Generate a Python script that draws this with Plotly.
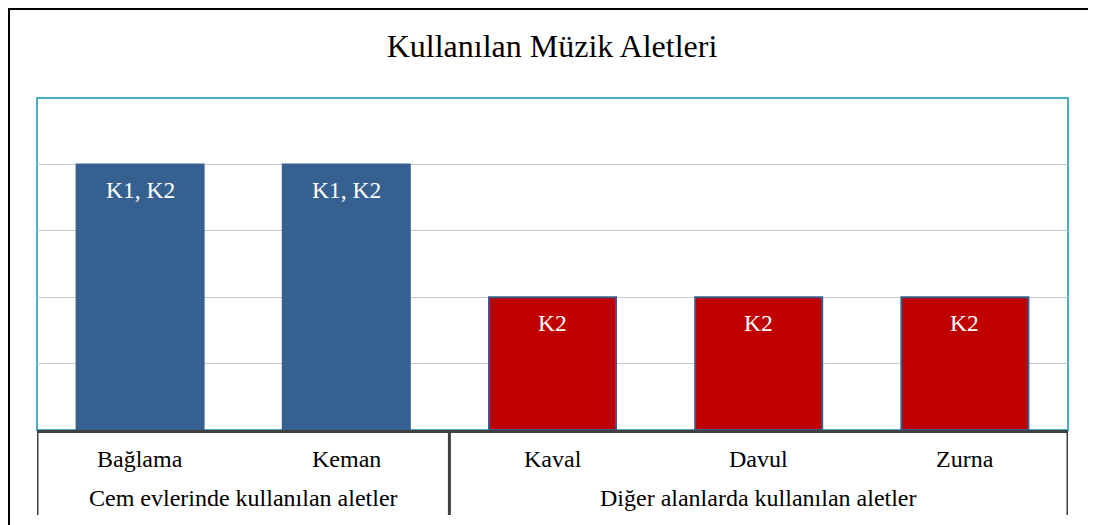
import plotly.graph_objects as go

title_text = "Kullanılan Müzik Aletleri"
groups = ["Cem evlerinde kullanılan aletler", "Cem evlerinde kullanılan aletler",
          "Diğer alanlarda kullanılan aletler", "Diğer alanlarda kullanılan aletler",
          "Diğer alanlarda kullanılan aletler"]
instruments = ["Bağlama", "Keman", "Kaval", "Davul", "Zurna"]
values = [4, 4, 2, 2, 2]
bar_labels = ["K1, K2", "K1, K2", "K2", "K2", "K2"]
bar_colors = ["#36608F", "#36608F", "#C00000", "#C00000", "#C00000"]
outline_colors = ["#36608F", "#36608F", "#385D8A", "#385D8A", "#385D8A"]

FONT = "Liberation Serif, Times New Roman, serif"
LABEL_SIZE = 24
AXIS_COLOR = "#404040"

fig = go.Figure()
fig.add_trace(go.Bar(
    x=instruments,
    y=values,
    marker=dict(color=bar_colors, line=dict(color=outline_colors, width=2)),
    hoverinfo="skip",
))

W, H = 1088, 517
L, R, T, B = 29, 28, 90, 95
pw, ph = W - L - R, H - T - B

def fx(px):
    return (px - L) / pw

def fy(py):
    return (H - B - py) / ph

shapes = [
    # cyan plot-area border
    dict(type="rect", xref="paper", yref="paper", x0=0, x1=1, y0=0, y1=1,
         line=dict(color="#4BACC6", width=2), layer="below"),
    # outer chart frame
    dict(type="line", xref="paper", yref="paper",
         x0=fx(1), x1=fx(1), y0=fy(0), y1=fy(H + 20),
         line=dict(color="black", width=2)),
    dict(type="line", xref="paper", yref="paper",
         x0=fx(0), x1=fx(W), y0=fy(1), y1=fy(1),
         line=dict(color="black", width=2)),
    dict(type="line", xref="paper", yref="paper",
         x0=fx(W - 0.5), x1=fx(W - 0.5), y0=fy(1), y1=fy(H + 20),
         line=dict(color="#888888", width=1)),
]

# group boundaries (dividers) and group centers from the category indices
group_names = []
for g in groups:
    if g not in group_names:
        group_names.append(g)
bounds = set()
group_centers = []
for g in group_names:
    idx = [i for i, gg in enumerate(groups) if gg == g]
    bounds.add(min(idx) - 0.5)
    bounds.add(max(idx) + 0.5)
    group_centers.append((min(idx) + max(idx)) / 2)

divider_depth = 85 / ph
for bx in sorted(bounds):
    shapes.append(dict(type="line", xref="x", yref="paper", x0=bx, x1=bx,
                       y0=0, y1=-divider_depth,
                       line=dict(color=AXIS_COLOR, width=3)))

annotations = []
# value labels inside bars
for i, (v, t) in enumerate(zip(values, bar_labels)):
    annotations.append(dict(x=i, y=v, xref="x", yref="y", text=t, showarrow=False,
                            yanchor="middle", xanchor="center", yshift=-26,
                            font=dict(family=FONT, size=23.5, color="white")))
# category labels (row 1)
for i, name in enumerate(instruments):
    annotations.append(dict(x=i, y=0, xref="x", yref="paper", text=name, showarrow=False,
                            yanchor="middle", xanchor="center", yshift=-29,
                            font=dict(family=FONT, size=LABEL_SIZE, color="black")))
# group labels (row 2)
for g, c in zip(group_names, group_centers):
    annotations.append(dict(x=c, y=0, xref="x", yref="paper", text=g, showarrow=False,
                            yanchor="middle", xanchor="center", yshift=-67.5,
                            font=dict(family=FONT, size=LABEL_SIZE, color="black")))

fig.update_layout(
    width=W, height=H,
    margin=dict(l=L, r=R, t=T, b=B, pad=0),
    paper_bgcolor="white", plot_bgcolor="white",
    title=dict(text=title_text, x=0.5, xanchor="center", y=1 - 38 / H, yanchor="middle",
               font=dict(family=FONT, size=32, color="black")),
    font=dict(family=FONT, size=LABEL_SIZE, color="black"),
    bargap=0.384,
    showlegend=False,
    shapes=shapes,
    annotations=annotations,
    xaxis=dict(type="category", showline=True, linecolor=AXIS_COLOR, linewidth=3,
               ticks="", showgrid=False, showticklabels=False, range=[-0.5, 4.5]),
    yaxis=dict(range=[0, 5], dtick=1, showticklabels=False, showgrid=True,
               gridcolor="#C8C8C8", gridwidth=1, zeroline=False, showline=False, ticks=""),
)

fig.write_html("out.html")
